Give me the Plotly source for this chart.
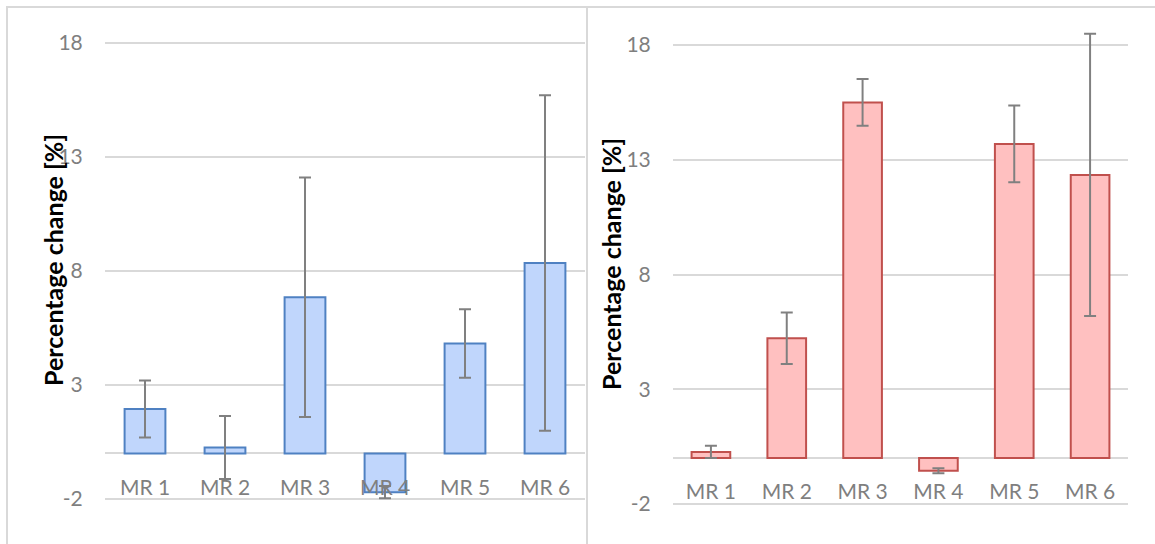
import plotly.graph_objects as go

# ---- data ----
categories = ["MR 1", "MR 2", "MR 3", "MR 4", "MR 5", "MR 6"]
left_values = [1.95, 0.26, 6.85, -1.70, 4.82, 8.35]
left_errors = [1.25, 1.38, 5.25, 0.27, 1.50, 7.36]
right_values = [0.27, 5.22, 15.50, -0.55, 13.69, 12.34]
right_errors = [0.27, 1.12, 1.02, 0.11, 1.67, 6.15]
y_ticks = [-2, 3, 8, 13, 18]
y_tick_labels = ["-2", "3", "8", "13", "18"]
y_title = "Percentage change [%]"

W, H = 1155, 544

def fx(px):
    return px / W

def fy(py):
    return 1 - py / H

GRID = "#d9d9d9"
TICKC = "#7f7f7f"
FONT = "Lato"

fig = go.Figure()

fig.add_trace(go.Bar(
    x=categories, y=left_values,
    error_y=dict(type="data", array=left_errors, color="#808080", thickness=2, width=6),
    marker=dict(color="#c0d6fc", line=dict(color="#4f81c2", width=2)),
    xaxis="x", yaxis="y", showlegend=False,
))
fig.add_trace(go.Bar(
    x=categories, y=right_values,
    error_y=dict(type="data", array=right_errors, color="#808080", thickness=2, width=6),
    marker=dict(color="#ffc0c0", line=dict(color="#c0504d", width=2)),
    xaxis="x2", yaxis="y2", showlegend=False,
))

# pixel geometry
L_top18, L_pu = 43.0, 22.8
R_top18, R_pu = 45.0, 22.95
L_range = [-2.2, 18.2]
R_range = [-2.2, 19.0]
L_dom = [fy(L_top18 + (18 - L_range[0]) * L_pu), fy(L_top18 - (L_range[1] - 18) * L_pu)]
R_dom = [fy(R_top18 + (18 - R_range[0]) * R_pu), fy(R_top18 - (R_range[1] - 18) * R_pu)]
L_zero = fy(L_top18 + 18 * L_pu)
R_zero = fy(R_top18 + 18 * R_pu)

xcommon = dict(showgrid=False, zeroline=False, showline=False, ticks="outside",
               ticklen=15, tickcolor="rgba(0,0,0,0)", anchor="free", automargin=False,
               tickfont=dict(family=FONT, size=21, color=TICKC), range=[-0.5, 5.5],
               fixedrange=True)
ycommon = dict(tickvals=y_ticks, ticktext=y_tick_labels, showgrid=True, gridcolor=GRID,
               gridwidth=1.5, zeroline=True, zerolinecolor=GRID, zerolinewidth=1.5,
               showline=False, ticks="outside", ticklen=17, tickcolor="rgba(0,0,0,0)",
               automargin=False, tickfont=dict(family=FONT, size=21, color=TICKC),
               fixedrange=True)

fig.update_layout(
    template="none",
    width=W, height=H,
    margin=dict(l=0, r=0, t=0, b=0, pad=0, autoexpand=False),
    paper_bgcolor="white", plot_bgcolor="white",
    bargap=0.49,
    xaxis=dict(domain=[fx(105), fx(585)], position=L_zero, **xcommon),
    yaxis=dict(domain=L_dom, range=L_range, anchor="x", **ycommon),
    xaxis2=dict(domain=[fx(673), fx(1128)], position=R_zero, **xcommon),
    yaxis2=dict(domain=R_dom, range=R_range, anchor="x2", **ycommon),
    annotations=[
        dict(text=y_title, xref="paper", yref="paper", x=fx(36), y=fy(260),
             textangle=-90, showarrow=False,
             font=dict(family=FONT, size=25, color="black", weight="bold")),
        dict(text=y_title, xref="paper", yref="paper", x=fx(611), y=fy(264),
             textangle=-90, showarrow=False,
             font=dict(family=FONT, size=25, color="black", weight="bold")),
    ],
    shapes=[
        dict(type="rect", xref="paper", yref="paper", x0=fx(7), x1=fx(587),
             y0=-0.1, y1=fy(7), line=dict(color=GRID, width=2)),
        dict(type="rect", xref="paper", yref="paper", x0=fx(587), x1=1.1,
             y0=-0.1, y1=fy(7), line=dict(color=GRID, width=2)),
    ],
)

fig.write_html("out.html", config={"displayModeBar": False},
               post_script="document.body.style.margin='0';")
